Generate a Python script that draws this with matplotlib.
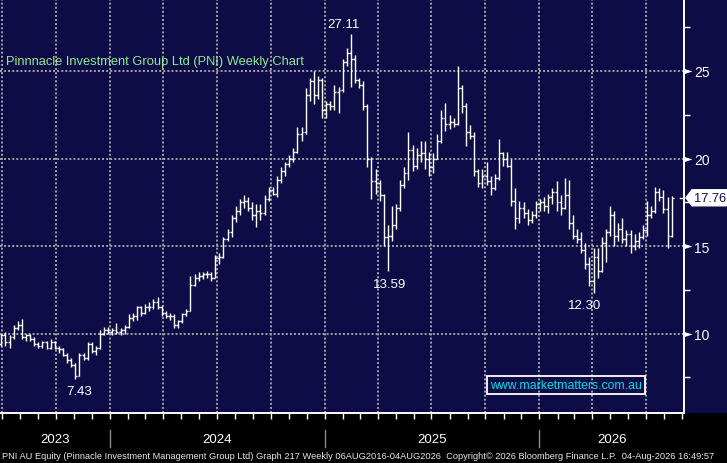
import matplotlib
matplotlib.use('Agg')
import matplotlib.pyplot as plt
import matplotlib.dates as mdates
import matplotlib.transforms as mtransforms
from matplotlib.path import Path
from matplotlib.patches import Polygon, Rectangle
from matplotlib.ticker import FixedLocator
import numpy as np
import pandas as pd

plt.rcParams['font.family'] = ['Liberation Sans', 'DejaVu Sans']

# ---------------- data (weekly OHLC) ----------------
first_week = '2023-06-30'
open_ = [9.4, 9.9, 9.5, 9.8, 10.3, 10.5, 9.8, 9.9, 9.7, 9.4, 9.3, 9.5, 9.2, 9.5, 9.2, 9.1, 8.8, 8.5, 8.2, 7.6,
         8.8, 8.6, 9.4, 9.0, 9.2, 10.0, 10.2, 10.1, 10.2, 10.1, 10.2, 10.4, 10.9, 11.0, 11.5, 11.2, 11.5, 11.5, 11.8, 11.5,
         11.2, 11.0, 11.0, 10.5, 10.7, 11.1, 11.3, 12.8, 13.2, 13.3, 13.4, 13.4, 13.2, 14.3, 14.4, 15.4, 15.8, 16.6, 17.0, 17.5,
         17.6, 17.2, 16.8, 17.0, 16.9, 17.7, 18.2, 18.0, 18.8, 19.3, 19.7, 20.0, 20.4, 21.4, 21.5, 23.6, 24.4, 23.6, 24.5, 22.8,
         23.1, 23.0, 23.8, 23.9, 25.5, 26.0, 25.7, 24.5, 24.2, 23.0, 20.0, 18.7, 18.6, 17.9, 15.5, 15.6, 16.2, 17.2, 18.5, 19.2,
         20.5, 19.6, 20.2, 20.3, 20.0, 19.5, 20.0, 21.0, 22.3, 22.0, 22.1, 22.0, 24.0, 23.0, 21.5, 21.3, 19.3, 18.6, 19.0, 18.7,
         18.3, 18.9, 20.3, 20.0, 19.6, 17.6, 16.6, 17.2, 16.9, 16.5, 16.8, 17.4, 17.5, 17.3, 17.8, 18.1, 17.5, 17.2, 17.9, 16.3,
         15.6, 15.4, 14.8, 14.0, 13.0, 14.4, 13.6, 15.2, 15.8, 16.8, 15.6, 16.0, 15.4, 15.7, 15.0, 15.3, 15.5, 15.9, 16.8, 17.0,
         18.1, 17.8, 17.1, 15.6]
high = [10.0, 10.1, 9.9, 10.5, 10.7, 10.85, 10.0, 10.0, 9.8, 9.5, 9.6, 9.6, 9.7, 9.6, 9.3, 9.2, 8.9, 8.6, 8.3, 8.9,
        8.9, 9.5, 9.5, 9.3, 10.2, 10.4, 10.4, 10.3, 10.6, 10.3, 10.5, 11.1, 11.2, 11.6, 11.6, 11.7, 11.8, 12.0, 12.1, 11.6,
        11.3, 11.2, 11.1, 10.8, 11.2, 11.4, 13.3, 13.4, 13.5, 13.5, 13.6, 13.5, 14.5, 14.6, 15.5, 16.0, 16.8, 17.3, 17.7, 17.9,
        17.8, 17.5, 17.4, 17.4, 17.9, 18.4, 18.4, 19.0, 19.5, 19.8, 20.2, 20.6, 21.8, 21.8, 24.0, 24.6, 25.0, 24.7, 24.6, 23.3,
        23.3, 24.2, 24.1, 25.7, 26.3, 27.11, 25.9, 24.6, 24.4, 23.1, 20.1, 19.4, 18.8, 18.0, 16.2, 17.3, 17.4, 18.8, 19.5, 21.5,
        20.8, 20.6, 21.0, 21.0, 20.4, 20.3, 21.4, 22.8, 23.2, 22.5, 22.3, 25.3, 24.2, 23.2, 21.9, 21.5, 19.4, 19.4, 19.8, 19.0,
        19.1, 21.1, 20.4, 20.4, 20.0, 18.3, 17.6, 17.5, 17.1, 17.0, 17.6, 17.7, 17.8, 18.0, 18.3, 18.7, 17.9, 18.9, 18.8, 16.8,
        16.0, 15.8, 15.2, 14.4, 14.9, 14.9, 15.5, 16.0, 17.3, 17.0, 16.3, 16.6, 15.9, 15.9, 15.7, 15.8, 16.2, 17.6, 17.3, 18.4,
        18.3, 18.2, 17.8, 17.85]
low = [9.3, 9.3, 9.2, 9.7, 10.2, 9.7, 9.6, 9.6, 9.3, 9.2, 9.2, 9.1, 9.1, 9.1, 8.9, 8.7, 8.3, 8.1, 7.43, 7.6,
       8.5, 8.5, 8.9, 8.8, 9.1, 9.9, 10.0, 9.9, 10.0, 9.9, 10.0, 10.3, 10.7, 10.8, 11.0, 11.1, 11.3, 11.4, 11.4, 11.0,
       10.9, 10.8, 10.3, 10.3, 10.6, 11.0, 11.3, 12.7, 13.0, 13.1, 13.2, 13.0, 13.2, 14.0, 14.3, 15.3, 15.5, 16.4, 16.8, 17.2,
       17.0, 16.5, 16.1, 16.5, 16.8, 17.6, 17.9, 17.8, 18.6, 19.0, 19.5, 19.8, 20.3, 21.0, 21.4, 23.3, 23.1, 23.4, 22.3, 22.3,
       22.8, 22.8, 22.6, 23.8, 25.3, 24.1, 24.3, 24.0, 22.8, 19.5, 17.7, 18.0, 17.6, 15.0, 13.59, 15.3, 16.0, 17.0, 18.3, 18.8,
       19.3, 19.4, 19.8, 19.4, 19.0, 19.2, 20.0, 20.9, 21.6, 21.7, 21.8, 21.9, 22.6, 20.7, 21.1, 19.0, 18.4, 18.3, 18.5, 17.9,
       18.2, 18.8, 19.6, 19.5, 17.3, 16.0, 16.3, 16.6, 16.2, 16.3, 16.6, 17.0, 17.0, 16.9, 17.4, 17.0, 16.8, 17.1, 16.0, 15.4,
       15.2, 14.6, 13.7, 12.7, 12.30, 13.2, 13.5, 14.1, 15.6, 15.0, 15.3, 15.2, 15.0, 14.6, 14.8, 14.9, 15.4, 15.6, 16.6, 16.9,
       17.6, 16.9, 14.9, 15.5]
close = [9.9, 9.5, 9.8, 10.3, 10.5, 9.8, 9.9, 9.7, 9.4, 9.3, 9.5, 9.2, 9.5, 9.2, 9.1, 8.8, 8.5, 8.2, 7.6, 8.8,
         8.6, 9.4, 9.0, 9.2, 10.0, 10.2, 10.1, 10.2, 10.1, 10.2, 10.4, 10.9, 11.0, 11.5, 11.2, 11.5, 11.5, 11.8, 11.5, 11.2,
         11.0, 11.0, 10.5, 10.7, 11.1, 11.3, 12.8, 13.2, 13.3, 13.4, 13.4, 13.2, 14.3, 14.4, 15.4, 15.8, 16.6, 17.0, 17.5, 17.6,
         17.2, 16.8, 17.0, 16.9, 17.7, 18.2, 18.0, 18.8, 19.3, 19.7, 20.0, 20.4, 21.4, 21.5, 23.6, 24.4, 23.6, 24.5, 22.8, 23.1,
         23.0, 23.8, 23.9, 25.5, 26.0, 25.7, 24.5, 24.2, 23.0, 20.0, 18.7, 18.6, 17.9, 15.5, 15.6, 16.2, 17.2, 18.5, 19.2, 20.5,
         19.6, 20.2, 20.3, 20.0, 19.5, 20.0, 21.0, 22.3, 22.0, 22.1, 22.0, 24.0, 23.0, 21.5, 21.3, 19.3, 18.6, 19.0, 18.7, 18.3,
         18.9, 20.3, 20.0, 19.6, 17.6, 16.6, 17.2, 16.9, 16.5, 16.8, 17.4, 17.5, 17.3, 17.8, 18.1, 17.5, 17.2, 17.9, 16.3, 15.6,
         15.4, 14.8, 14.0, 13.0, 14.4, 13.6, 15.2, 15.8, 16.8, 15.6, 16.0, 15.4, 15.7, 15.0, 15.3, 15.5, 15.9, 16.8, 17.0, 18.1,
         17.8, 17.1, 15.6, 17.76]

y_ticks = [10, 15, 20, 25]
y_minor = [7.5, 12.5, 17.5, 22.5, 27.5]
years = [2023, 2024, 2025, 2026]
peak_labels = [27.11]
trough_labels = [13.59, 12.30, 7.43]

title = "Pinnnacle Investment Group Ltd (PNI) Weekly Chart"
watermark = "www.marketmatters.com.au"
footer = ("PNI AU Equity (Pinnacle Investment Management Group Ltd) Graph 217 Weekly "
          "06AUG2016-04AUG2026  Copyright\u00a9 2026 Bloomberg Finance L.P.  04-Aug-2026 16:49:57")

# ---------------- styling ----------------
NAVY = '#0e0c46'
GRID = '#a3a3a3'
W, H = 727, 464

fig = plt.figure(figsize=(W / 100, H / 100), dpi=100, facecolor='black')
ax = fig.add_axes([0, 50 / H, 684 / W, 414 / H])
ax.set_facecolor(NAVY)
fig.add_artist(Rectangle((684 / W, 50 / H), 43 / W, 414 / H, transform=fig.transFigure,
                         facecolor=NAVY, edgecolor='none', zorder=-5))

dates = pd.date_range(first_week, periods=len(close), freq='7D')
x = mdates.date2num(dates)
o = np.array(open_); h = np.array(high); l = np.array(low); c = np.array(close)

half = 3.3
ax.vlines(x, l, h, color='white', lw=1.0, zorder=3)
ax.hlines(o, x - half, x, color='white', lw=1.0, zorder=3)
ax.hlines(c, x, x + half, color='white', lw=1.0, zorder=3)

ax.set_xlim(mdates.date2num(pd.Timestamp('2023-06-27 18:00')), mdates.date2num(pd.Timestamp('2026-09-04')))
ax.set_ylim(5.47, 29.11)

ax.xaxis.set_major_locator(mdates.MonthLocator(bymonth=[1, 4, 7, 10]))
ax.xaxis.set_minor_locator(mdates.MonthLocator())
ax.yaxis.set_major_locator(FixedLocator(y_ticks))
ax.yaxis.set_minor_locator(FixedLocator(y_minor))
ax.grid(True, which='major', color=GRID, linestyle=(0, (1, 1.1)), lw=1.4, zorder=1)

ax.yaxis.tick_right()
ax.tick_params(axis='y', which='major', length=0, pad=7.5, labelsize=10, labelcolor='white')
ax.tick_params(axis='y', which='minor', length=4, width=1, color='white', direction='out')
ax.tick_params(axis='x', which='both', length=4, width=1, color='white', direction='out',
               labelbottom=False)

for s in ['top', 'left']:
    ax.spines[s].set_visible(False)
for s in ['right', 'bottom']:
    ax.spines[s].set_color('white')
    ax.spines[s].set_linewidth(1.4)

# triangle tick markers on the right axis
tri = Path([(0, -0.32), (0, 0.32), (1, 0), (0, -0.32)],
           [Path.MOVETO, Path.LINETO, Path.LINETO, Path.CLOSEPOLY])
btrans = mtransforms.blended_transform_factory(ax.transAxes, ax.transData)
ax.plot([1.0] * len(y_ticks), y_ticks, linestyle='none', marker=tri, ms=11.5,
        color='white', mec='white', mew=0, transform=btrans, clip_on=False, zorder=5)

# title and watermark
ax.text(6 / 684, 1 - 62 / 414, title, transform=ax.transAxes, color='#8fec8f',
        fontsize=9.3, va='center', ha='left')
ax.text(566 / 684, 1 - 386 / 414, watermark, transform=ax.transAxes, color='#00dcee',
        fontsize=8.8, va='center', ha='center',
        bbox=dict(boxstyle='square,pad=0.28', fc='none', ec='white', lw=1.3))

# high / low labels
for v in peak_labels:
    i = int(np.argmin(np.abs(h - v)))
    ax.annotate(f"{v:.2f}", (x[i], h[i]), xytext=(-7, 10), textcoords='offset pixels',
                color='white', fontsize=9.5, ha='center', va='center')
troff = {13.59: (2, -13), 12.30: (-9, -12), 7.43: (4, -12)}
for v in trough_labels:
    i = int(np.argmin(np.abs(l - v)))
    ax.annotate(f"{v:.2f}", (x[i], l[i]), xytext=troff[v], textcoords='offset pixels',
                color='white', fontsize=9.5, ha='center', va='center')

# year labels and separators
x0, x1 = ax.get_xlim()
ytrans = mtransforms.blended_transform_factory(ax.transData, fig.transFigure)
for yr in years:
    a = max(x0, mdates.date2num(pd.Timestamp(f'{yr}-01-01')))
    b = min(x1, mdates.date2num(pd.Timestamp(f'{yr + 1}-01-01')))
    fig.text((a + b) / 2, (H - 440) / H, str(yr), transform=ytrans, color='white',
             fontsize=9.5, ha='center', va='center')
    if yr > years[0]:
        xb = mdates.date2num(pd.Timestamp(f'{yr}-01-01'))
        fig.add_artist(plt.Line2D([xb, xb], [(H - 448) / H, (H - 431) / H], transform=ytrans,
                                  color='#8a8a8a', lw=1.0))

# last price box
fig.canvas.draw()
yd = ax.transData.transform((x[-1], c[-1]))[1]
ident = mtransforms.IdentityTransform()
fig.add_artist(Polygon([(686, yd), (692, yd + 8), (W + 2, yd + 8), (W + 2, yd - 8), (692, yd - 8)],
                       closed=True, transform=ident, facecolor='white', edgecolor='white', zorder=6))
fig.text(694, yd, f"{c[-1]:.2f}", transform=ident, color=NAVY, fontsize=9.3,
         ha='left', va='center', zorder=7)
ax.plot([1 - 4 / 684, 1], [c[-1], c[-1]], transform=btrans, color='white', lw=1.0, clip_on=False)

# footer fitted to width
ft = fig.text(2 / W, (H - 457) / H, footer, color='#e6e6e6', fontsize=7.0, ha='left', va='center')
fig.canvas.draw()
w = ft.get_window_extent().width
ft.set_fontsize(7.0 * 712 / w)

fig.savefig('out.png', dpi=100, facecolor='black')
